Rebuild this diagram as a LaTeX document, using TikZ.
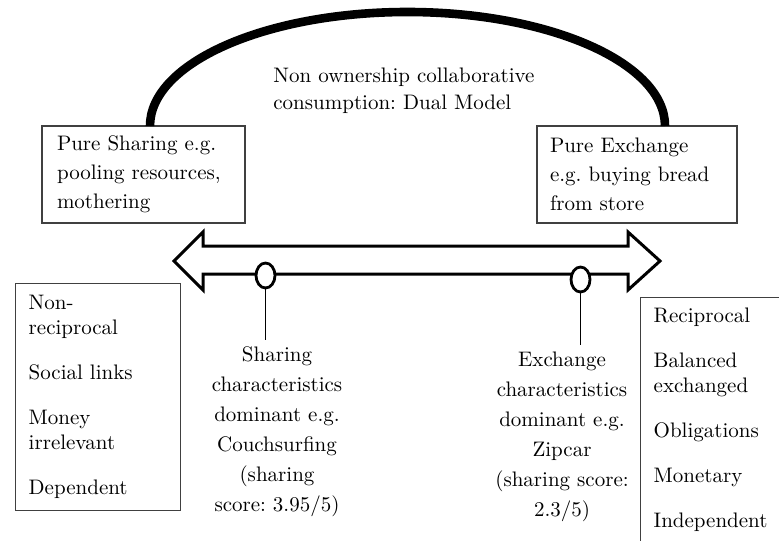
\documentclass[tikz,border=0pt]{standalone}
\usepackage{xcolor}
\usetikzlibrary{shapes.geometric}
\usetikzlibrary{positioning}
\frenchspacing

\begin{document}
\begin{tikzpicture}[x=0.5pt, y=-0.5pt,
		block/.style={draw=black!75, line width=0.7pt, align=left, font=\fontsize{10.5pt}{14.5pt}\selectfont},
		list/.style={draw=black!75, line width=0.7pt, align=left, inner ysep=4pt, font=\fontsize{10.5pt}{12.5pt}\selectfont},
		label/.style={align=center, font=\fontsize{10.5pt}{15pt}\selectfont},
		oval/.style={draw, ellipse, line width=1.4pt, fill=white, inner sep=0pt, minimum width=9.5pt, minimum height=12.5pt},
	]
		\useasboundingbox (0,0) rectangle (779,540);
		\clip (0,0) rectangle (779,540);

		% dual model arc and its title
		\node[block, text width=86.5pt, inner xsep=7.5pt, minimum height=48.5pt] (ps) at (143.5,174.5) {Pure Sharing e.g.\\ pooling resources,\\ mothering};
		\node[block, text width=87pt, inner xsep=6.5pt, minimum height=48.5pt] (pe) at (637,174.5) {Pure Exchange\\ e.g. buying bread\\ from store};
		\coordinate (al) at (150,126);
		\draw[line width=4.3pt] (al) arc[start angle=180, end angle=0, x radius=128.75pt, y radius=57pt];
		\node[align=left, inner sep=0pt, anchor=west, font=\fontsize{10.5pt}{13.5pt}\selectfont] (dm) at (273,91) {Non ownership collaborative\\ consumption: Dual Model};

		% the scale
		\draw[line width=1.5pt, line join=miter] (174,261) -- (203,232) -- (203,246) -- (628,246) -- (628,232) -- (660,261)
			-- (628,290) -- (628,274) -- (203,274) -- (203,290) -- cycle;
		\node[oval] (sd) at (265.5,275.5) {};
		\node[oval] (ed) at (580.5,279.5) {};

		\node[label, anchor=north] (sl) at (277,340) {Sharing\\ characteristics\\ dominant e.g.\\ Couchsurfing\\ (sharing\\ score: 3.95/5)};
		\node[label, anchor=north] (el) at (562,345) {Exchange\\ characteristics\\ dominant e.g.\\ Zipcar\\ (sharing score:\\ 2.3/5)};
		\draw[line width=0.6pt] (sd.south) -- (sd.south|-sl.north);
		\draw[line width=0.6pt] (ed.south) -- (ed.south|-el.north);

		% characteristics lists
		\node[list, anchor=north west, text width=69.5pt, inner xsep=6.5pt, minimum height=113.5pt] (nr) at (15,283)
			{Non-\\ reciprocal\\[10pt] Social links\\[10pt] Money\\ irrelevant\\[10pt] Dependent};
		\node[list, anchor=north west, text width=75pt, inner xsep=6.5pt, inner ysep=5pt] (rc) at (640,297)
			{Reciprocal\\[10pt] Balanced\\ exchanged\\[10pt] Obligations\\[10pt] Monetary\\[10pt] Independent\\[10pt] \mbox{}};
	\end{tikzpicture}
\end{document}
